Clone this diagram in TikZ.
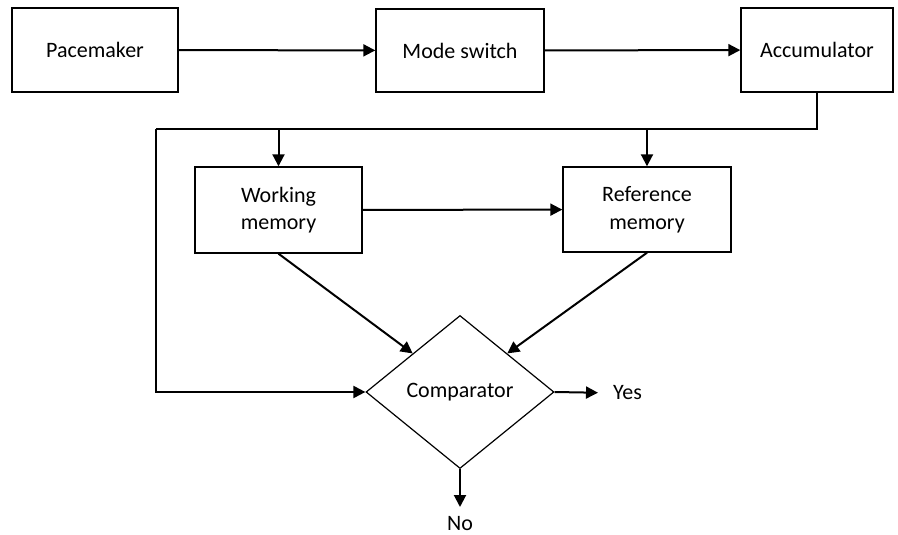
\documentclass[tikz,border=0pt]{standalone}
\usepackage{fontspec}
\setmainfont{Carlito}
\usetikzlibrary{shapes.geometric,arrows.meta}
\begin{document}
\begin{tikzpicture}[x=1pt,y=-1pt,
  font=\fontsize{22}{27.5}\selectfont,
  box/.style={draw, line width=1.4pt, inner sep=0pt, align=center},
  decision/.style={draw, diamond, line width=1.2pt, inner sep=0pt,
    minimum width=188pt, minimum height=153pt, aspect=1.23},
  link/.style={line width=2pt},
  conn/.style={line width=2pt, -{Triangle[length=12pt,width=12pt]}},
  lbl/.style={inner sep=0pt}]
\useasboundingbox (0,0) rectangle (898,535);

% top row
\node[box, minimum width=166pt, minimum height=84pt] (pace) at (95,50) {Pacemaker};
\node[box, minimum width=168pt, minimum height=83pt] (mode) at (460,50.5) {Mode switch};
\node[box, minimum width=152pt, minimum height=84pt] (acc) at (817,50) {Accumulator};

% memories
\node[box, minimum width=167pt, minimum height=86pt] (wm) at (278.5,210) {Working\\memory};
\node[box, minimum width=168pt, minimum height=85pt] (rm) at (647,209.5) {Reference\\memory};

% comparator
\node[decision] (cmp) at (460,392) {Comparator};

% outcomes
\node[lbl, anchor=west] (yes) at (613,393) {Yes};
\node[lbl] (no) at (460,524) {No};
\coordinate (noend) at (460,507);

% feedback bus from the accumulator
\coordinate (busR) at (acc.south |- 0,129);
\coordinate (busL) at (156,129);
\coordinate (busB) at (156,392);

\draw[conn] (pace) -- (mode);
\draw[conn] (mode) -- (acc);
\draw[link] (acc.south) -- (busR) -- (busL);
\draw[conn] (busL) -- (busB) -- (cmp.west);
\draw[conn] (wm.north |- busL) -- (wm.north);
\draw[conn] (rm.north |- busR) -- (rm.north);
\draw[conn] (wm) -- (rm);
\draw[conn] (wm.south) -- (cmp.north west);
\draw[conn] (rm.south) -- (cmp.north east);
\draw[conn, shorten >=15pt] (cmp.east) -- (yes.west);
\draw[conn] (cmp.south) -- (noend);
\end{tikzpicture}
\end{document}
